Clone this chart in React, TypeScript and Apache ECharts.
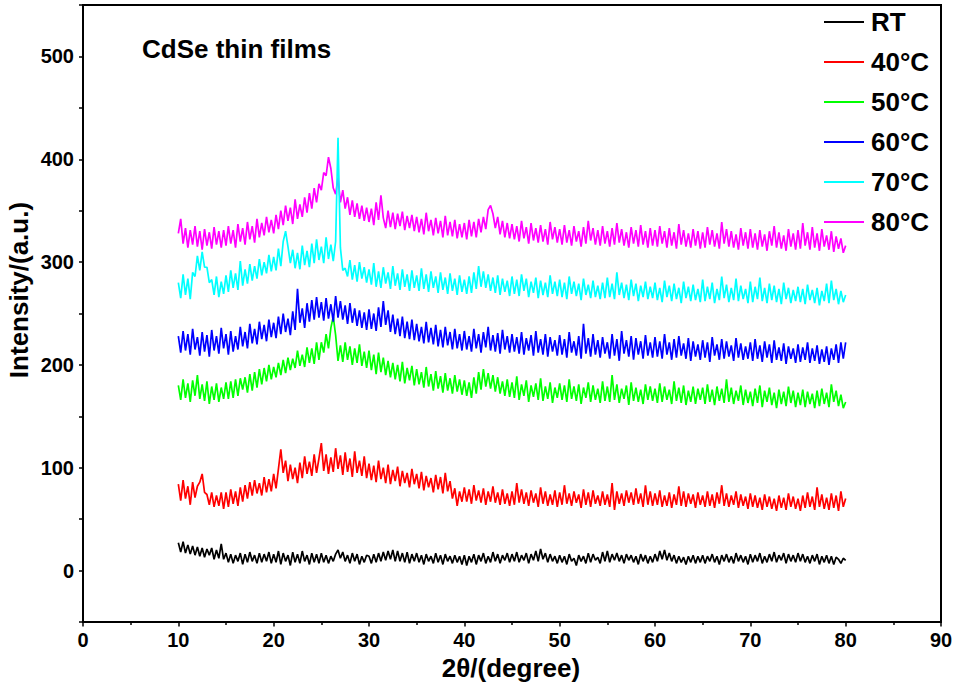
import React, { useEffect, useRef } from "react";
import * as echarts from "echarts";

// 2θ sampling: first angle and step (degrees)
const TWO_THETA_START = 10;
const TWO_THETA_STEP = 0.25;

const seriesNames = ["RT", "40°C", "50°C", "60°C", "70°C", "80°C"];
const seriesColors = ["#000000", "#ff0000", "#00ff00", "#0000ff", "#00ffff", "#ff00ff"];

const xTicks = [0, 10, 20, 30, 40, 50, 60, 70, 80, 90];
const yTicks = [0, 100, 200, 300, 400, 500];

// Intensity values, one per 0.25° from 10° to 80°
const rtValues = [
  27, 18, 28, 17, 25, 16, 24, 15, 23, 14, 22, 13, 21, 15, 22, 11, 20, 12, 26, 11,
  17, 8, 16, 7, 15, 9, 17, 6, 16, 8, 18, 9, 15, 7, 17, 8, 16, 9, 18, 7,
  16, 8, 19, 6, 17, 9, 15, 5, 18, 8, 16, 7, 19, 9, 15, 6, 17, 8, 16, 7,
  17, 8, 15, 7, 14, 9, 16, 20, 12, 18, 9, 15, 7, 17, 9, 16, 6, 14, 8, 15,
  14, 7, 16, 8, 17, 9, 18, 10, 19, 11, 20, 9, 19, 9, 17, 8, 18, 7, 16, 9,
  17, 8, 15, 6, 16, 9, 14, 7, 17, 8, 15, 6, 16, 9, 14, 7, 15, 8, 14, 6,
  15, 5, 14, 8, 16, 6, 15, 9, 17, 7, 14, 8, 18, 9, 16, 7, 15, 10, 17, 8,
  16, 9, 18, 8, 15, 10, 17, 7, 16, 10, 19, 9, 21, 11, 17, 8, 16, 9, 14, 7,
  15, 8, 14, 6, 16, 9, 12, 5, 15, 9, 14, 7, 17, 8, 16, 10, 13, 7, 18, 9,
  19, 8, 16, 10, 17, 9, 15, 7, 16, 10, 15, 8, 14, 6, 16, 9, 15, 7, 14, 8,
  16, 9, 19, 11, 20, 10, 17, 9, 15, 7, 14, 8, 13, 6, 14, 8, 15, 7, 14, 8,
  15, 7, 14, 9, 16, 8, 14, 6, 15, 9, 16, 8, 14, 7, 17, 9, 15, 8, 14, 6,
  16, 8, 15, 9, 17, 7, 14, 8, 16, 9, 18, 8, 15, 10, 17, 7, 16, 9, 15, 8,
  17, 9, 16, 8, 14, 7, 15, 9, 16, 6, 14, 8, 15, 7, 14, 6, 13, 11, 7, 12,
  10,
];

const c40Values = [
  84, 68, 88, 70, 82, 64, 86, 71, 82, 86, 94, 76, 74, 64, 76, 62, 73, 63, 76, 60,
  76, 62, 79, 65, 77, 63, 81, 67, 83, 70, 86, 73, 88, 75, 85, 73, 91, 76, 89, 77,
  94, 80, 99, 118, 95, 107, 87, 103, 89, 100, 85, 105, 90, 111, 94, 106, 92, 113, 95, 109,
  124, 97, 113, 94, 110, 96, 119, 99, 112, 93, 115, 96, 109, 91, 116, 95, 107, 92, 111, 90,
  104, 88, 102, 86, 107, 89, 100, 85, 103, 84, 98, 87, 101, 82, 97, 85, 95, 81, 99, 84,
  94, 80, 96, 78, 92, 81, 90, 76, 93, 79, 91, 75, 95, 77, 87, 70, 80, 63, 77, 67,
  81, 67, 79, 65, 83, 68, 78, 66, 80, 64, 77, 67, 82, 66, 76, 64, 79, 65, 75, 63,
  77, 64, 85, 66, 79, 65, 76, 63, 78, 66, 75, 62, 81, 65, 77, 63, 74, 64, 78, 62,
  76, 64, 83, 65, 75, 63, 77, 66, 74, 61, 79, 64, 76, 62, 78, 65, 73, 63, 77, 64,
  74, 62, 85, 59, 77, 65, 75, 63, 78, 66, 76, 64, 80, 65, 75, 62, 83, 64, 77, 63,
  75, 64, 78, 62, 73, 63, 76, 61, 74, 64, 82, 63, 77, 62, 75, 65, 74, 61, 76, 64,
  73, 62, 77, 63, 74, 61, 76, 65, 83, 63, 75, 62, 73, 64, 77, 61, 74, 63, 72, 60,
  75, 62, 73, 61, 71, 59, 74, 62, 72, 60, 70, 58, 73, 61, 71, 59, 75, 62, 72, 60,
  70, 58, 73, 61, 76, 62, 72, 59, 81, 62, 74, 60, 71, 59, 75, 61, 73, 58, 77, 62,
  70,
];

const c50Values = [
  180, 166, 186, 168, 182, 164, 185, 170, 190, 167, 181, 165, 184, 162, 179, 166, 182, 164, 178, 167,
  183, 167, 184, 168, 186, 170, 187, 176, 188, 173, 191, 175, 193, 178, 196, 181, 197, 184, 200, 186,
  198, 188, 202, 190, 205, 192, 207, 195, 206, 197, 214, 199, 210, 198, 217, 202, 216, 201, 222, 205,
  222, 212, 230, 216, 236, 247, 229, 204, 219, 203, 222, 205, 218, 200, 216, 202, 220, 199, 213, 197,
  214, 195, 210, 191, 212, 193, 207, 190, 204, 188, 202, 186, 200, 184, 203, 182, 197, 185, 199, 180,
  196, 181, 193, 178, 198, 179, 191, 175, 194, 177, 189, 173, 192, 175, 187, 172, 190, 174, 186, 171,
  185, 170, 183, 168, 188, 172, 193, 176, 196, 179, 192, 177, 190, 174, 188, 172, 184, 170, 186, 169,
  183, 168, 189, 166, 181, 170, 185, 164, 180, 169, 182, 166, 187, 165, 179, 167, 183, 163, 178, 168,
  182, 166, 180, 164, 186, 167, 179, 165, 181, 162, 178, 168, 183, 164, 180, 166, 177, 163, 184, 165,
  179, 164, 190, 166, 181, 163, 177, 167, 180, 161, 183, 165, 178, 164, 176, 162, 181, 166, 179, 165,
  177, 163, 182, 164, 179, 166, 176, 162, 184, 165, 178, 163, 180, 161, 175, 164, 179, 162, 177, 166,
  178, 162, 181, 164, 176, 161, 179, 165, 177, 163, 186, 164, 178, 162, 175, 165, 180, 161, 176, 163,
  174, 160, 177, 163, 180, 159, 175, 164, 178, 161, 173, 158, 176, 162, 174, 160, 179, 163, 175, 159,
  173, 161, 176, 159, 174, 162, 172, 158, 175, 160, 177, 162, 173, 159, 181, 164, 175, 160, 171, 158,
  164,
];

const c60Values = [
  228, 212, 233, 214, 230, 210, 235, 215, 227, 209, 232, 213, 229, 208, 234, 214, 228, 211, 236, 216,
  230, 210, 233, 213, 228, 215, 237, 218, 232, 216, 240, 221, 235, 220, 242, 225, 239, 223, 244, 227,
  241, 226, 247, 230, 250, 232, 245, 229, 252, 234, 274, 241, 255, 236, 260, 242, 263, 244, 266, 246,
  261, 243, 265, 245, 259, 242, 267, 246, 262, 244, 258, 240, 260, 241, 255, 238, 253, 236, 251, 234,
  254, 235, 250, 233, 256, 237, 262, 239, 253, 232, 249, 230, 245, 228, 247, 226, 242, 225, 244, 224,
  240, 223, 237, 221, 242, 222, 236, 220, 239, 218, 234, 217, 237, 219, 232, 215, 235, 216, 230, 214,
  233, 215, 228, 213, 235, 216, 230, 212, 232, 217, 237, 214, 229, 213, 231, 211, 234, 215, 228, 212,
  230, 213, 227, 211, 232, 210, 226, 214, 229, 209, 233, 212, 225, 210, 230, 208, 227, 213, 224, 209,
  229, 210, 225, 207, 232, 212, 223, 209, 228, 206, 240, 211, 226, 208, 230, 210, 224, 207, 227, 211,
  222, 206, 230, 209, 225, 204, 233, 211, 224, 208, 228, 205, 226, 210, 223, 206, 229, 209, 222, 207,
  227, 208, 223, 206, 230, 210, 222, 205, 225, 207, 228, 209, 221, 206, 226, 204, 223, 208, 220, 205,
  224, 207, 222, 203, 227, 209, 220, 205, 225, 206, 223, 208, 219, 204, 226, 207, 221, 205, 218, 206,
  222, 204, 225, 206, 219, 203, 223, 207, 220, 202, 224, 205, 217, 204, 221, 201, 218, 206, 216, 202,
  220, 203, 217, 205, 222, 202, 216, 204, 219, 201, 215, 203, 218, 200, 216, 205, 220, 202, 222, 206,
  222,
];

const c70Values = [
  280, 265, 288, 268, 284, 264, 290, 286, 306, 292, 310, 295, 295, 280, 283, 268, 286, 266, 281, 269,
  287, 271, 292, 275, 289, 273, 301, 277, 293, 279, 298, 282, 296, 284, 303, 287, 300, 289, 307, 291,
  305, 292, 313, 296, 320, 330, 315, 299, 312, 294, 309, 293, 316, 297, 311, 295, 318, 299, 322, 302,
  315, 299, 324, 303, 317, 301, 320, 421, 314, 292, 294, 286, 302, 283, 297, 281, 300, 284, 295, 280,
  293, 278, 299, 276, 291, 275, 295, 279, 290, 274, 296, 277, 289, 273, 293, 276, 288, 272, 292, 275,
  287, 272, 294, 274, 288, 271, 291, 275, 286, 270, 290, 273, 285, 269, 289, 272, 284, 268, 287, 271,
  283, 269, 286, 270, 290, 274, 296, 276, 291, 275, 288, 272, 285, 270, 287, 268, 284, 271, 282, 267,
  286, 269, 283, 267, 288, 272, 284, 266, 281, 270, 285, 265, 282, 268, 280, 266, 287, 269, 281, 267,
  283, 266, 280, 264, 286, 269, 281, 267, 279, 263, 284, 268, 278, 265, 282, 266, 277, 264, 280, 265,
  285, 266, 279, 264, 290, 268, 280, 265, 278, 263, 283, 267, 279, 262, 277, 266, 281, 264, 276, 265,
  280, 263, 275, 261, 282, 266, 277, 262, 279, 264, 275, 260, 281, 265, 276, 262, 278, 263, 274, 261,
  283, 262, 276, 264, 280, 260, 274, 263, 286, 265, 278, 261, 275, 263, 284, 262, 277, 264, 274, 260,
  281, 261, 276, 264, 285, 262, 275, 260, 279, 263, 277, 261, 274, 259, 280, 264, 275, 260, 273, 262,
  276, 261, 274, 259, 278, 263, 273, 260, 275, 258, 272, 262, 279, 260, 282, 263, 274, 259, 272, 261,
  268,
];

const c80Values = [
  328, 342, 318, 333, 314, 331, 317, 335, 315, 330, 312, 332, 316, 329, 313, 334, 317, 330, 314, 331,
  316, 335, 318, 331, 314, 337, 320, 333, 317, 339, 322, 335, 319, 342, 324, 338, 326, 344, 329, 341,
  328, 346, 332, 350, 336, 355, 340, 353, 337, 361, 342, 356, 344, 363, 348, 367, 352, 372, 358, 376,
  370, 387, 384, 402, 391, 372, 366, 382, 358, 370, 352, 363, 346, 360, 344, 357, 342, 355, 340, 353,
  339, 352, 336, 358, 341, 365, 343, 333, 350, 334, 348, 332, 347, 335, 349, 331, 345, 333, 346, 330,
  344, 329, 342, 327, 348, 330, 341, 326, 343, 328, 340, 324, 345, 326, 339, 325, 341, 323, 337, 324,
  338, 322, 341, 325, 339, 324, 342, 329, 344, 332, 351, 355, 347, 333, 344, 327, 340, 324, 338, 323,
  337, 322, 335, 320, 340, 323, 334, 318, 338, 321, 333, 319, 336, 320, 332, 317, 339, 322, 334, 319,
  332, 317, 336, 319, 331, 316, 335, 320, 330, 315, 334, 318, 340, 321, 333, 317, 331, 316, 335, 318,
  330, 315, 333, 317, 338, 319, 332, 316, 329, 314, 334, 318, 331, 315, 336, 317, 330, 314, 333, 316,
  331, 315, 335, 318, 330, 314, 333, 316, 329, 313, 337, 317, 331, 315, 328, 314, 332, 316, 330, 313,
  329, 314, 334, 317, 331, 315, 328, 313, 339, 318, 332, 315, 330, 314, 327, 312, 333, 316, 329, 313,
  332, 314, 328, 312, 331, 315, 327, 311, 330, 316, 335, 314, 329, 313, 326, 311, 332, 315, 328, 312,
  331, 313, 338, 316, 329, 312, 334, 314, 328, 311, 332, 315, 326, 312, 330, 310, 325, 313, 323, 309,
  316,
];

const allValues = [rtValues, c40Values, c50Values, c60Values, c70Values, c80Values];

const FONT = "'Liberation Sans', Arial, Helvetica, sans-serif";

function toPairs(values: number[]): [number, number][] {
  return values.map((v, i) => [TWO_THETA_START + i * TWO_THETA_STEP, v]);
}

export default function App() {
  const ref = useRef<HTMLDivElement>(null);

  useEffect(() => {
    document.body.style.margin = "0";
    if (!ref.current) return;
    const chart = echarts.init(ref.current, undefined, { renderer: "svg" });

    const option: any = {
      animation: false,
      backgroundColor: "#ffffff",
      grid: {
        left: 83,
        right: 16,
        top: 5,
        bottom: 65,
        show: true,
        borderColor: "#000",
        borderWidth: 2,
        backgroundColor: "transparent",
      },
      legend: {
        data: seriesNames,
        orient: "vertical",
        left: 824,
        top: 7,
        padding: 0,
        icon: "rect",
        itemWidth: 40,
        itemHeight: 2,
        itemGap: 10,
        textStyle: {
          fontFamily: FONT,
          fontWeight: "bold",
          fontSize: 26,
          color: "#000",
          lineHeight: 30,
          padding: [0, 0, 0, 2],
        },
      },
      xAxis: {
        type: "value",
        min: xTicks[0],
        max: xTicks[xTicks.length - 1],
        interval: 10,
        axisLine: { show: true, onZero: false, lineStyle: { color: "#000", width: 2 } },
        axisTick: { show: true, inside: false, length: 4.5, lineStyle: { color: "#000", width: 1.5 } },
        minorTick: { show: true, splitNumber: 2, length: 3, lineStyle: { color: "#000", width: 1.5 } },
        splitLine: { show: false },
        axisLabel: {
          fontFamily: FONT,
          fontWeight: "bold",
          fontSize: 20,
          color: "#000",
          margin: 8,
          formatter: (v: number) => (xTicks.includes(v) ? String(v) : ""),
        },
      },
      yAxis: {
        type: "value",
        min: -50,
        max: 550,
        interval: 50,
        axisLine: { show: true, onZero: false, lineStyle: { color: "#000", width: 2 } },
        axisTick: { show: true, inside: false, length: 4, lineStyle: { color: "#000", width: 1.5 } },
        splitLine: { show: false },
        axisLabel: {
          fontFamily: FONT,
          fontWeight: "bold",
          fontSize: 20,
          color: "#000",
          margin: 9,
          formatter: (v: number) => (yTicks.includes(v) ? String(v) : ""),
        },
      },
      graphic: [
        {
          type: "text",
          x: 142,
          y: 49,
          style: {
            text: "CdSe thin films",
            font: `bold 26px ${FONT}`,
            fill: "#000",
            textAlign: "left",
            textVerticalAlign: "middle",
          },
        },
        {
          type: "text",
          x: 19,
          y: 290,
          rotation: Math.PI / 2,
          style: {
            text: "Intensity/(a.u.)",
            font: `bold 26px ${FONT}`,
            fill: "#000",
            textAlign: "center",
            textVerticalAlign: "middle",
          },
        },
        {
          type: "text",
          x: 511,
          y: 668,
          style: {
            text: "2θ/(degree)",
            font: `bold 26px ${FONT}`,
            fill: "#000",
            textAlign: "center",
            textVerticalAlign: "middle",
          },
        },
      ],
      series: allValues.map((vals, idx) => ({
        name: seriesNames[idx],
        type: "line",
        data: toPairs(vals),
        showSymbol: false,
        symbol: "none",
        z: idx === 4 ? 4 : 2,
        itemStyle: { color: seriesColors[idx] },
        lineStyle: { color: seriesColors[idx], width: 1.7 },
      })),
    };

    chart.setOption(option);
    return () => {
      chart.dispose();
    };
  }, []);

  return <div ref={ref} style={{ width: 957, height: 687 }} />;
}
